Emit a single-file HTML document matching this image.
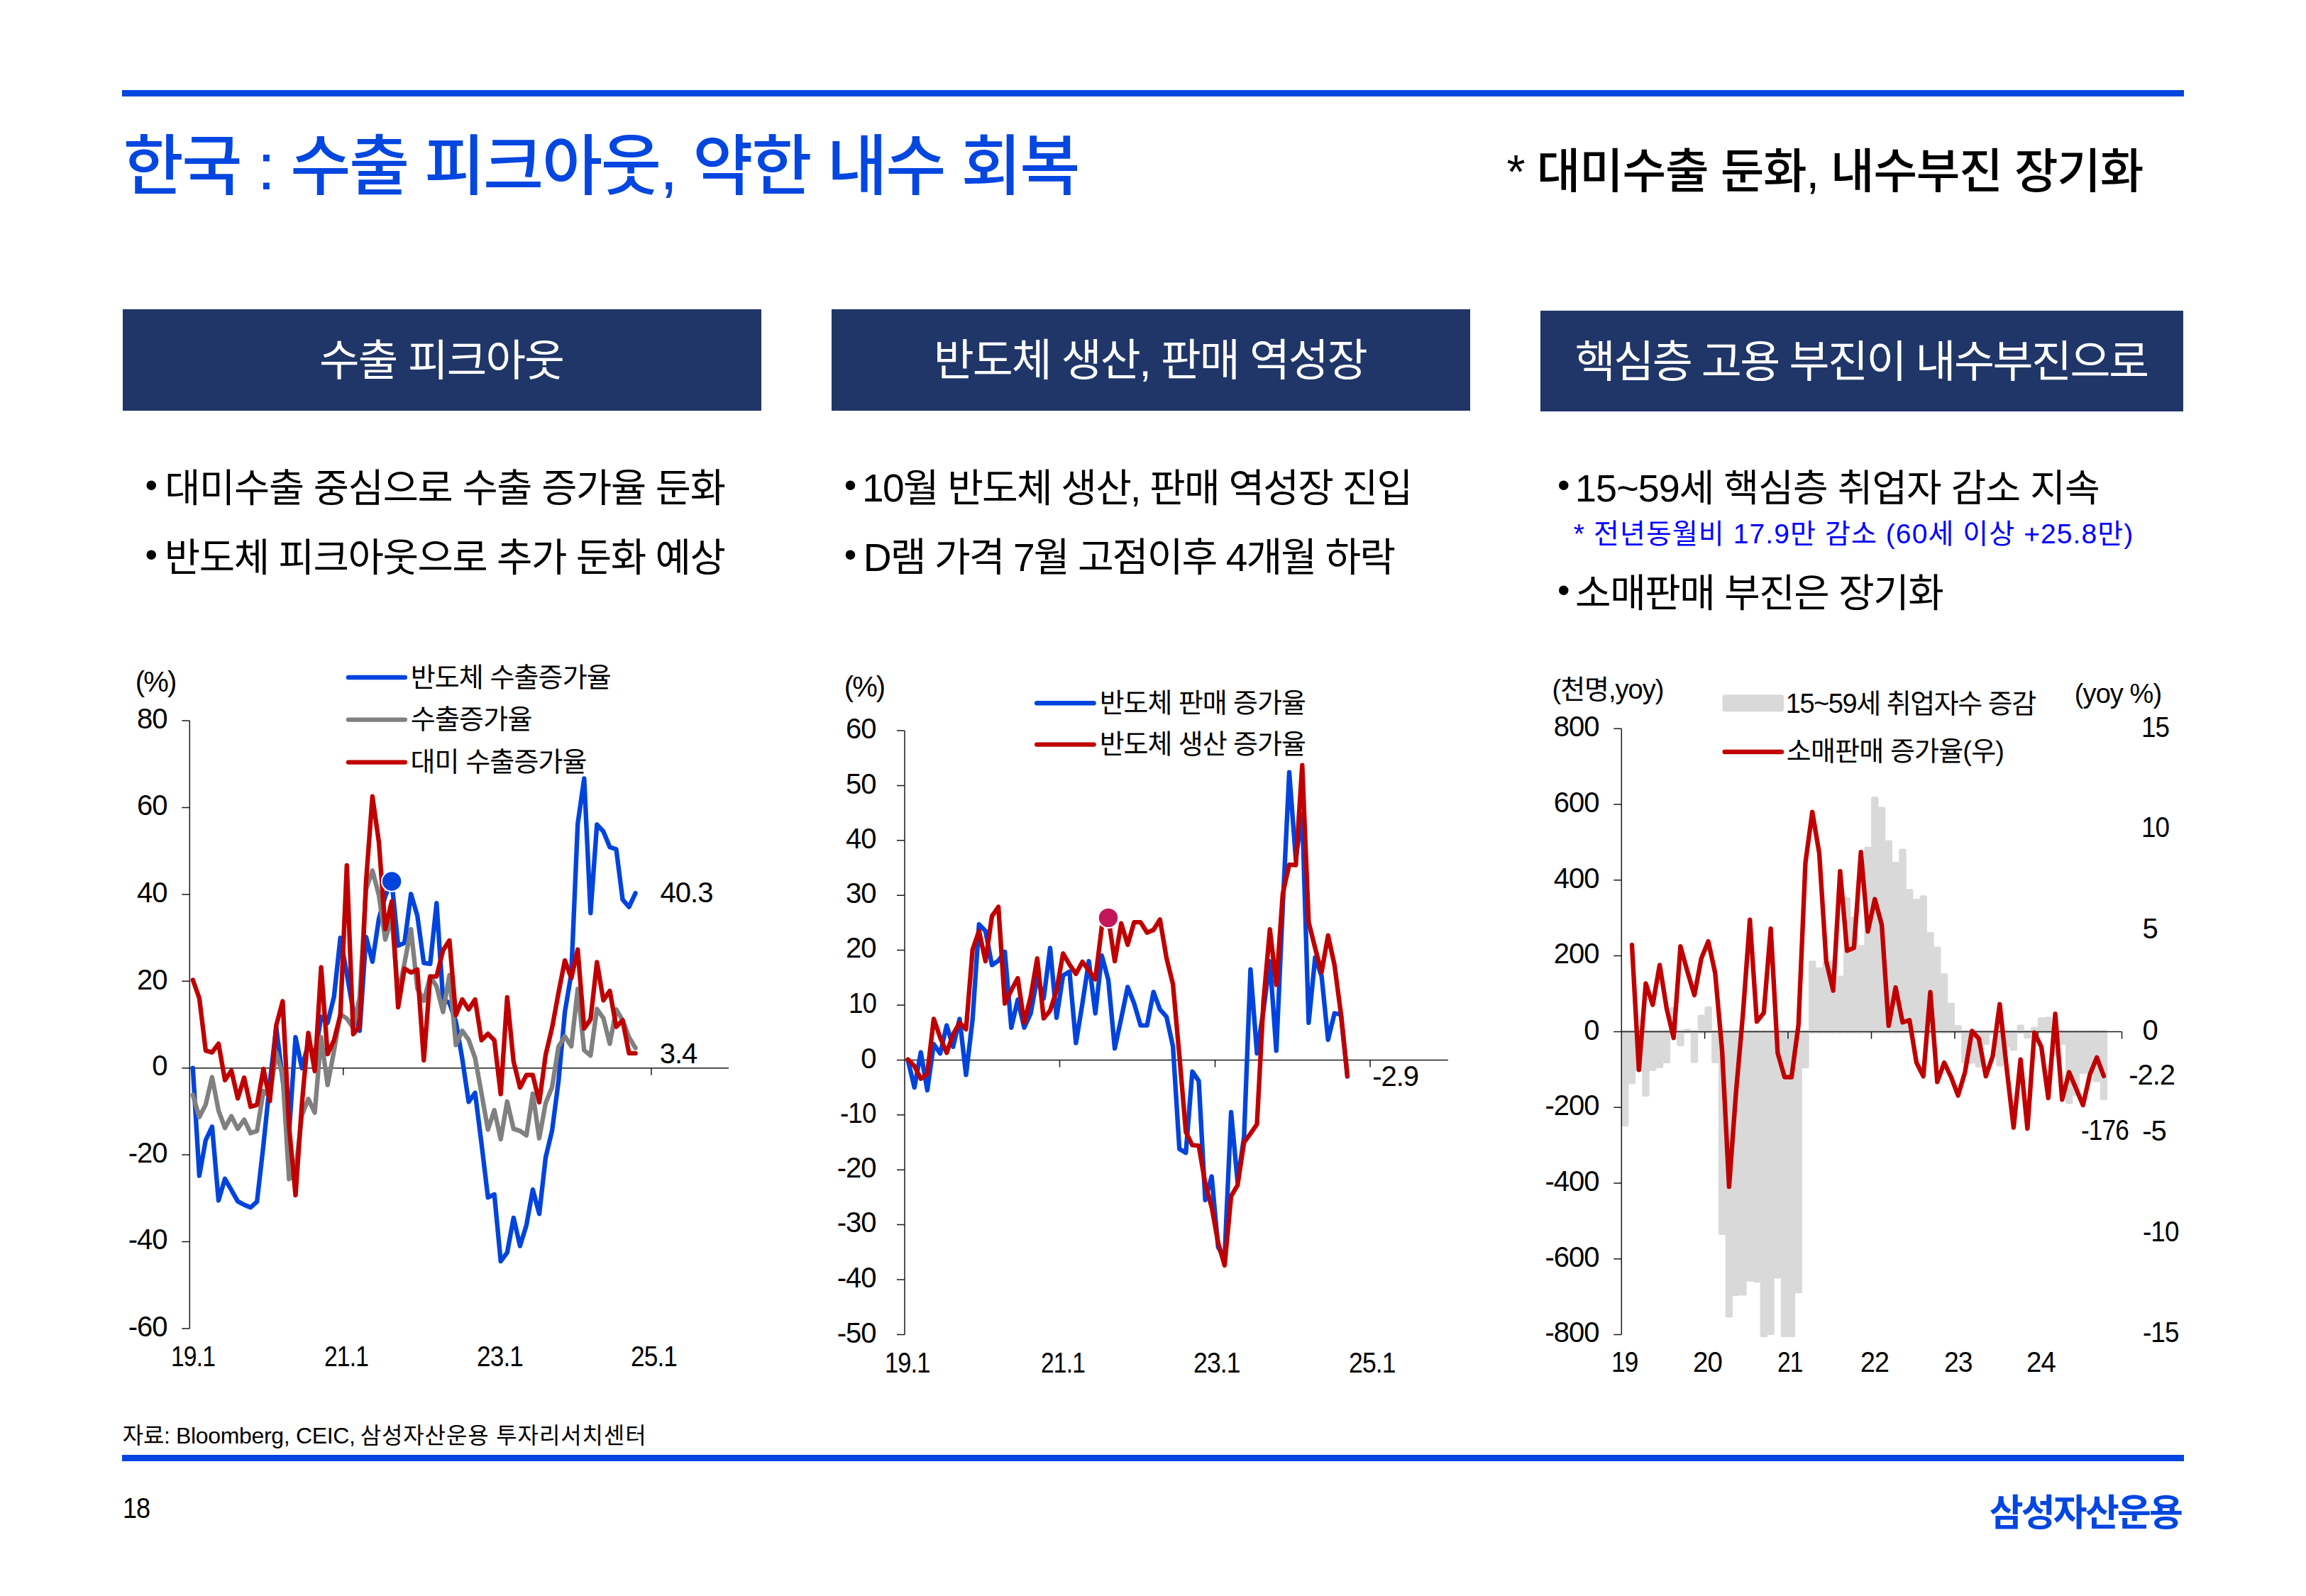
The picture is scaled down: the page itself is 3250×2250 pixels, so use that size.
<!DOCTYPE html>
<html lang="ko"><head><meta charset="utf-8"><title>한국 : 수출 피크아웃, 약한 내수 회복</title>
<style>
html,body{margin:0;padding:0;background:#fff}
body{width:3250px;height:2250px;position:relative;overflow:hidden;font-family:'Liberation Sans','Noto Sans CJK KR',sans-serif}
.t{position:absolute;white-space:nowrap;line-height:1;margin:0;padding:0;font-weight:400;color:#000;transform-origin:0 0}
.r{position:absolute;left:172px;width:2905.5px;background:#0446E0}
.hb{position:absolute;background:#203668;height:142.2px}
#charts{position:absolute;left:0;top:0}
</style></head><body>
<div class="r" style="top:126.6px;height:9.3px"></div>
<div class="r" style="top:2051px;height:8.9px"></div>
<div class="hb" style="left:173.4px;top:436.4px;width:900px"></div>
<div class="hb" style="left:1172px;top:436.4px;width:900px"></div>
<div class="hb" style="left:2171px;top:438.2px;width:905.6px"></div>
<svg id="charts" width="3250" height="2250" viewBox="0 0 3250 2250">
<defs><clipPath id="cp3"><rect x="2270" y="1000" width="760" height="885"/></clipPath></defs>
<g fill="none" stroke-linejoin="round" stroke-linecap="round">
<g clip-path="url(#cp3)" fill="#D9D9D9" stroke="#D9D9D9" stroke-width="5" stroke-linecap="butt">
<rect x="2287.5" y="1454.4" width="5.4" height="131.4"/>
<rect x="2297.3" y="1454.4" width="5.4" height="71.6"/>
<rect x="2307.1" y="1454.4" width="5.4" height="53.4"/>
<rect x="2316.8" y="1454.4" width="5.4" height="89.2"/>
<rect x="2326.6" y="1454.4" width="5.4" height="52.9"/>
<rect x="2336.4" y="1454.4" width="5.4" height="49.1"/>
<rect x="2346.2" y="1454.4" width="5.4" height="42.2"/>
<rect x="2356" y="1422.4" width="5.4" height="32"/>
<rect x="2365.7" y="1454.4" width="5.4" height="18.2"/>
<rect x="2375.5" y="1452.8" width="5.4" height="1.6"/>
<rect x="2385.3" y="1454.4" width="5.4" height="41.7"/>
<rect x="2395.1" y="1433" width="5.4" height="21.4"/>
<rect x="2404.9" y="1421.3" width="5.4" height="33.1"/>
<rect x="2414.6" y="1454.4" width="5.4" height="42.2"/>
<rect x="2424.4" y="1454.4" width="5.4" height="284.1"/>
<rect x="2434.2" y="1454.4" width="5.4" height="400.5"/>
<rect x="2444" y="1454.4" width="5.4" height="370.1"/>
<rect x="2453.8" y="1454.4" width="5.4" height="369.5"/>
<rect x="2463.5" y="1454.4" width="5.4" height="349.8"/>
<rect x="2473.3" y="1454.4" width="5.4" height="351.4"/>
<rect x="2483.1" y="1454.4" width="5.4" height="480.6"/>
<rect x="2492.9" y="1454.4" width="5.4" height="425.1"/>
<rect x="2502.7" y="1454.4" width="5.4" height="345.5"/>
<rect x="2512.4" y="1454.4" width="5.4" height="480.6"/>
<rect x="2522.2" y="1454.4" width="5.4" height="480.6"/>
<rect x="2532" y="1454.4" width="5.4" height="366.3"/>
<rect x="2541.8" y="1454.4" width="5.4" height="49.1"/>
<rect x="2551.6" y="1356.7" width="5.4" height="97.7"/>
<rect x="2561.3" y="1366.3" width="5.4" height="88.1"/>
<rect x="2571.1" y="1357.7" width="5.4" height="96.7"/>
<rect x="2580.9" y="1356.1" width="5.4" height="98.3"/>
<rect x="2590.7" y="1378" width="5.4" height="76.4"/>
<rect x="2600.5" y="1267.5" width="5.4" height="186.9"/>
<rect x="2610.2" y="1294.7" width="5.4" height="159.7"/>
<rect x="2620" y="1334.8" width="5.4" height="119.6"/>
<rect x="2629.8" y="1195.9" width="5.4" height="258.5"/>
<rect x="2639.6" y="1125.5" width="5.4" height="328.9"/>
<rect x="2649.4" y="1139.9" width="5.4" height="314.5"/>
<rect x="2659.1" y="1186.9" width="5.4" height="267.5"/>
<rect x="2668.9" y="1217.3" width="5.4" height="237.1"/>
<rect x="2678.7" y="1199.1" width="5.4" height="255.3"/>
<rect x="2688.5" y="1255.8" width="5.4" height="198.6"/>
<rect x="2698.3" y="1269.6" width="5.4" height="184.8"/>
<rect x="2708" y="1264.8" width="5.4" height="189.6"/>
<rect x="2717.8" y="1316.6" width="5.4" height="137.8"/>
<rect x="2727.6" y="1336.9" width="5.4" height="117.5"/>
<rect x="2737.4" y="1374.8" width="5.4" height="79.6"/>
<rect x="2747.2" y="1416" width="5.4" height="38.4"/>
<rect x="2756.9" y="1447.5" width="5.4" height="6.9"/>
<rect x="2766.7" y="1454.4" width="5.4" height="42.7"/>
<rect x="2776.5" y="1454.4" width="5.4" height="42.7"/>
<rect x="2786.3" y="1454.4" width="5.4" height="48.1"/>
<rect x="2796.1" y="1454.4" width="5.4" height="16"/>
<rect x="2805.8" y="1454.4" width="5.4" height="1.6"/>
<rect x="2815.6" y="1454.4" width="5.4" height="46.5"/>
<rect x="2825.4" y="1454.4" width="5.4" height="19.8"/>
<rect x="2835.2" y="1454.4" width="5.4" height="24.6"/>
<rect x="2845" y="1446.9" width="5.4" height="7.5"/>
<rect x="2854.7" y="1454.4" width="5.4" height="7.5"/>
<rect x="2864.5" y="1450.1" width="5.4" height="4.3"/>
<rect x="2874.3" y="1436.8" width="5.4" height="17.6"/>
<rect x="2884.1" y="1435.7" width="5.4" height="18.7"/>
<rect x="2893.9" y="1454.4" width="5.4" height="31"/>
<rect x="2903.6" y="1454.4" width="5.4" height="16"/>
<rect x="2913.4" y="1454.4" width="5.4" height="99.3"/>
<rect x="2923.2" y="1454.4" width="5.4" height="88.1"/>
<rect x="2933" y="1454.4" width="5.4" height="57.1"/>
<rect x="2942.8" y="1454.4" width="5.4" height="56.6"/>
<rect x="2952.5" y="1454.4" width="5.4" height="68.9"/>
<rect x="2962.3" y="1454.4" width="5.4" height="94"/>
</g>
<g stroke="#1a1a1a" stroke-width="1.5" stroke-linecap="butt">
<path d="M267.3 1016.1V1872.9M256.3 1016.1H267.3M256.3 1138.5H267.3M256.3 1260.9H267.3M256.3 1383.3H267.3M256.3 1505.7H267.3M256.3 1628.1H267.3M256.3 1750.5H267.3M256.3 1872.9H267.3M267.3 1505.7H1027M267.3 1505.7v10M483.8 1505.7v10M700.3 1505.7v10M918 1505.7v10"/>
<path d="M1275 1030V1881.4M1264 1030H1275M1264 1107.4H1275M1264 1184.8H1275M1264 1262.2H1275M1264 1339.6H1275M1264 1417H1275M1264 1494.4H1275M1264 1571.8H1275M1264 1649.2H1275M1264 1726.6H1275M1264 1804H1275M1264 1881.4H1275M1275 1494.4H2040.8M1275 1494.4v10M1493.5 1494.4v10M1712.5 1494.4v10M1931 1494.4v10"/>
<path d="M2285.3 1027.2V1881.6M2274.3 1027.2H2285.3M2274.3 1134H2285.3M2274.3 1240.8H2285.3M2274.3 1347.6H2285.3M2274.3 1454.4H2285.3M2274.3 1561.2H2285.3M2274.3 1668H2285.3M2274.3 1774.8H2285.3M2274.3 1881.6H2285.3M2285.3 1454.4H2990.5M2285.3 1454.4v10M2402.6 1454.4v10M2520 1454.4v10M2637.5 1454.4v10M2755 1454.4v10M2872.2 1454.4v10M2990.5 1454.4v10"/>
</g>
<g stroke-width="6.4">
<polyline stroke="#0044DD" points="271.8,1505.7 280.9,1657.5 289.9,1607.3 298.9,1588.3 308,1692.4 317,1661.8 326.1,1677.7 335.1,1693.6 344.1,1698.5 353.2,1702.2 362.2,1694.2 371.3,1614 380.3,1526.5 389.3,1448.2 398.4,1522.2 407.4,1596.9 416.5,1462.2 425.5,1505.9 434.5,1471.4 443.6,1488.6 452.6,1433.5 461.7,1442.1 470.7,1405.3 479.7,1322.1 488.8,1372.9 497.8,1424.9 506.9,1453.1 515.9,1320.9 524.9,1355.8 534,1295.2 543,1263.3 552.1,1242.5 561.1,1333.1 570.1,1329.4 579.2,1260.3 588.2,1290.9 597.3,1357.6 606.3,1358.8 615.3,1273.1 624.4,1409 633.4,1413.9 642.5,1440.2 651.5,1492.8 660.5,1553.4 669.6,1540.6 678.6,1612.2 687.7,1688.1 696.7,1683.8 705.7,1778 714.8,1765.8 723.8,1716.8 732.9,1756.6 741.9,1727.2 750.9,1677.1 760,1711.3 769,1631.8 778.1,1593.8 787.1,1524.7 796.1,1426.8 805.2,1372.3 814.2,1161.8 823.3,1097.5 832.3,1287.2 841.3,1162.4 850.4,1172.2 859.4,1194.2 868.5,1197.3 877.5,1268.2 886.5,1278.6 895.6,1259.1"/>
<polyline stroke="#808080" points="271.8,1543.6 280.9,1574.9 289.9,1557.1 298.9,1518.6 308,1565.7 317,1590.2 326.1,1573.6 335.1,1591.4 344.1,1578.5 353.2,1597.5 362.2,1594.4 371.3,1538.1 380.3,1546.1 389.3,1483.7 398.4,1516.1 407.4,1662.4 416.5,1651.4 425.5,1572.4 434.5,1549.2 443.6,1568.7 452.6,1462.2 461.7,1529.6 470.7,1481.8 479.7,1429.8 488.8,1435.9 497.8,1448.8 506.9,1405.9 515.9,1253.6 524.9,1227.2 534,1262.1 543,1324.5 552.1,1293.3 561.1,1402.3 570.1,1357.6 579.2,1309.9 588.2,1393.7 597.3,1410.8 606.3,1376.6 615.3,1390.6 624.4,1426.8 633.4,1374.7 642.5,1473.3 651.5,1453.1 660.5,1465.9 669.6,1491.6 678.6,1541.2 687.7,1592.6 696.7,1565.1 705.7,1606.1 714.8,1552.8 723.8,1591.4 732.9,1594.4 741.9,1600.6 750.9,1541.8 760,1604.8 769,1555.3 778.1,1532.6 787.1,1475.7 796.1,1461 805.2,1475.1 814.2,1394.3 823.3,1480.6 832.3,1488 841.3,1422.5 850.4,1435.3 859.4,1471.4 868.5,1423.1 877.5,1438.4 886.5,1462.2 895.6,1477.5"/>
<polyline stroke="#C00000" points="271.8,1381.5 280.9,1407.2 289.9,1481.2 298.9,1483.7 308,1471.4 317,1522.8 326.1,1509.4 335.1,1548.5 344.1,1519.2 353.2,1560.2 362.2,1557.7 371.3,1506.9 380.3,1552.2 389.3,1445.7 398.4,1411.5 407.4,1588.3 416.5,1685 425.5,1556.5 434.5,1456.1 443.6,1510 452.6,1363.7 461.7,1486.1 470.7,1466.5 479.7,1431 488.8,1219.9 497.8,1458 506.9,1446.9 515.9,1242.5 524.9,1122.6 534,1187.5 543,1309.9 552.1,1270.7 561.1,1420 570.1,1365.6 579.2,1371.1 588.2,1366.8 597.3,1494.7 606.3,1376.6 615.3,1376.6 624.4,1339.8 633.4,1325.8 642.5,1431 651.5,1409 660.5,1423.1 669.6,1409 678.6,1466.5 687.7,1457.4 696.7,1466.5 705.7,1542.4 714.8,1405.9 723.8,1496.5 732.9,1533.2 741.9,1515.5 750.9,1515.5 760,1554 769,1487.3 778.1,1448.8 787.1,1399.8 796.1,1353.9 805.2,1379 814.2,1338.6 823.3,1450 832.3,1437.2 841.3,1356.4 850.4,1410.2 859.4,1396.8 868.5,1447.6 877.5,1438.4 886.5,1484.9 895.6,1484.9"/>
<polyline stroke="#0044DD" points="1279.6,1494.4 1288.7,1533.1 1297.8,1483.6 1306.9,1537 1316,1472 1325.1,1485.1 1334.2,1445.6 1343.3,1475.8 1352.4,1436.4 1361.5,1515.3 1370.7,1437.1 1379.8,1303.2 1388.9,1312.5 1398,1360.5 1407.1,1354.3 1416.2,1341.9 1425.3,1448.7 1434.4,1409.3 1443.5,1448.7 1452.6,1428.6 1461.8,1378.3 1470.9,1407.7 1480,1336.5 1489.1,1434.8 1498.2,1375.2 1507.3,1369.8 1516.4,1470.4 1525.5,1414.7 1534.6,1355.1 1543.7,1428.6 1552.9,1347.3 1562,1381.4 1571.1,1478.1 1580.2,1435.6 1589.3,1391.5 1598.4,1414.7 1607.5,1445.6 1616.6,1445.6 1625.7,1398.4 1634.8,1423.2 1644,1433.3 1653.1,1475.1 1662.2,1619.8 1671.3,1625.2 1680.4,1510.7 1689.5,1523.8 1698.6,1691.8 1707.7,1658.5 1716.8,1758.3 1725.9,1773 1735.1,1567.9 1744.2,1666.2 1753.3,1602.8 1762.4,1366.7 1771.5,1485.1 1780.6,1424.7 1789.7,1355.1 1798.8,1481.2 1807.9,1277.7 1817,1088.8 1826.2,1210.3 1835.3,1147.6 1844.4,1441.8 1853.5,1349.7 1862.6,1376 1871.7,1465.8 1880.8,1428.6 1889.9,1430.2 1899,1517.6"/>
<polyline stroke="#C00000" points="1279.6,1493.6 1288.7,1502.9 1297.8,1520.7 1306.9,1513.8 1316,1436.4 1325.1,1462.7 1334.2,1484.3 1343.3,1458 1352.4,1441.8 1361.5,1451.1 1370.7,1338.8 1379.8,1312.5 1388.9,1355.1 1398,1291.6 1407.1,1278.5 1416.2,1414.7 1425.3,1396.1 1434.4,1379.1 1443.5,1441.8 1452.6,1405.4 1461.8,1351.2 1470.9,1435.6 1480,1424.7 1489.1,1396.1 1498.2,1344.2 1507.3,1359.7 1516.4,1372.9 1525.5,1355.9 1534.6,1368.2 1543.7,1380.6 1552.9,1306.3 1562,1293.9 1571.1,1355.1 1580.2,1301.7 1589.3,1331.9 1598.4,1300.1 1607.5,1300.1 1616.6,1314.8 1625.7,1311 1634.8,1296.3 1644,1350.4 1653.1,1387.6 1662.2,1488.2 1671.3,1595.8 1680.4,1614.4 1689.5,1615.1 1698.6,1668.6 1707.7,1701.8 1716.8,1752.1 1725.9,1783.9 1735.1,1686.4 1744.2,1670.9 1753.3,1610.5 1762.4,1598.1 1771.5,1585 1780.6,1413.1 1789.7,1310.2 1798.8,1388.4 1807.9,1259.9 1817,1218.9 1826.2,1219.6 1835.3,1078.8 1844.4,1300.1 1853.5,1336.5 1862.6,1370.6 1871.7,1318.7 1880.8,1360.5 1889.9,1429.4 1899,1516.8"/>
<polyline stroke="#C00000" points="2300,1332.3 2309.8,1508.2 2319.5,1386.4 2329.3,1416.5 2339.1,1360.4 2348.9,1421.7 2358.7,1463.2 2368.4,1334.3 2378.2,1369.6 2388,1402.9 2397.8,1351.1 2407.6,1327.1 2417.3,1371.8 2427.1,1481.4 2436.9,1673 2446.7,1539.8 2456.5,1428.8 2466.2,1296.7 2476,1440.4 2485.8,1427.9 2495.6,1309.2 2505.4,1484.3 2515.1,1518.5 2524.9,1518.5 2534.7,1445 2544.5,1216.4 2554.2,1144.6 2564,1203 2573.8,1355 2583.6,1396.6 2593.4,1228.3 2603.2,1340.2 2612.9,1336.2 2622.7,1201.3 2632.5,1313.2 2642.3,1267.6 2652.1,1303.8 2661.8,1446.1 2671.6,1392.1 2681.4,1441.3 2691.2,1438.2 2701,1498 2710.7,1517.3 2720.5,1398.6 2730.3,1525.3 2740.1,1498 2749.9,1518.7 2759.6,1544.4 2769.4,1511.6 2779.2,1453.5 2789,1464.4 2798.8,1517.3 2808.5,1488.8 2818.3,1415.7 2828.1,1505.6 2837.9,1589.6 2847.7,1493.7 2857.4,1591.1 2867.2,1455.8 2877,1475.8 2886.8,1548.1 2896.6,1429.3 2906.3,1550.3 2916.1,1511.6 2925.9,1534.4 2935.7,1558 2945.5,1514.5 2955.2,1490.8 2965,1517"/>
<path stroke="#0044DD" d="M491 955H570.8"/>
<path stroke="#808080" d="M491 1014.6H570.8"/>
<path stroke="#C00000" d="M491 1074.6H570.8"/>
<path stroke="#0044DD" d="M1461.2 991.2H1541.6"/>
<path stroke="#C00000" d="M1461.2 1049.6H1541.6"/>
<path stroke="#C00000" d="M2430.7 1060H2510.9"/>
</g>
<rect x="2427.6" y="979.2" width="86.4" height="24" rx="3.5" fill="#D9D9D9"/>
<circle cx="552.1" cy="1242.5" r="14.2" fill="#0044DD" stroke="#fff" stroke-width="2"/>
<circle cx="1562" cy="1293.9" r="14.2" fill="#C2185B" stroke="#fff" stroke-width="2"/>
</g></svg>
<div class="t" id="title" style="left:173.4px;top:189.1px;font-size:92.7px;letter-spacing:-2.41px;font-weight:500;color:#0446E0">한국 : 수출 피크아웃, 약한 내수 회복</div>
<div class="t" id="sub" style="left:2123.6px;top:208px;font-size:67px;letter-spacing:-1.26px;font-weight:500">* 대미수출 둔화, 내수부진 장기화</div>
<div class="t" id="h1" style="left:450.1px;top:477.6px;font-size:61.5px;letter-spacing:-1.81px;color:#fff">수출 피크아웃</div>
<div class="t" id="h2" style="left:1315.8px;top:477.7px;font-size:62px;letter-spacing:-2.10px;color:#fff">반도체 생산, 판매 역성장</div>
<div class="t" id="h3" style="left:2219.7px;top:480.2px;font-size:62px;letter-spacing:-2.56px;color:#fff">핵심층 고용 부진이 내수부진으로</div>
<div class="t" id="b11" style="left:232.2px;top:661.7px;font-size:54.5px;letter-spacing:-1.22px">대미수출 중심으로 수출 증가율 둔화</div>
<div class="t" id="b12" style="left:231.8px;top:758.8px;font-size:54.8px;letter-spacing:-1.44px">반도체 피크아웃으로 추가 둔화 예상</div>
<div class="t" id="b21" style="left:1215.1px;top:660.7px;font-size:55.1px;letter-spacing:-1.80px">10월 반도체 생산, 판매 역성장 진입</div>
<div class="t" id="b22" style="left:1216.8px;top:758.7px;font-size:55.2px;letter-spacing:-1.94px">D램 가격 7월 고점이후 4개월 하락</div>
<div class="t" id="b31" style="left:2220px;top:661.7px;font-size:53.9px;letter-spacing:-0.90px">15~59세 핵심층 취업자 감소 지속</div>
<div class="t" id="b3n" style="left:2217.8px;top:732.8px;font-size:39px;letter-spacing:1.09px;color:#0000FF">* 전년동월비 17.9만 감소 (60세 이상 +25.8만)</div>
<div class="t" id="b32" style="left:2220.1px;top:808.9px;font-size:54.9px;letter-spacing:-1.44px">소매판매 부진은 장기화</div>
<div class="t" id="d0" style="left:204.5px;top:659.4px;font-size:50px">•</div>
<div class="t" id="d1" style="left:204.5px;top:756.8px;font-size:50px">•</div>
<div class="t" id="d2" style="left:1189.7px;top:659.4px;font-size:50px">•</div>
<div class="t" id="d3" style="left:1189.7px;top:756.8px;font-size:50px">•</div>
<div class="t" id="d4" style="left:2194.9px;top:658.8px;font-size:50px">•</div>
<div class="t" id="d5" style="left:2194.9px;top:807.4px;font-size:50px">•</div>
<div class="t" id="src1" style="left:172.8px;top:2008.1px;font-size:32px;letter-spacing:-0.34px">자료: Bloomberg, CEIC,</div>
<div class="t" id="src2" style="left:507.7px;top:2007.7px;font-size:32px;letter-spacing:0.87px">삼성자산운용 투자리서치센터</div>
<div class="t" id="pg" style="left:173px;top:2105.6px;font-size:40px;letter-spacing:-1.00px;transform:scaleX(0.900)">18</div>
<div class="t" id="logo" style="left:2803.7px;top:2106.8px;font-size:52px;letter-spacing:-2.77px;font-weight:700;color:#0446E0">삼성자산운용</div>
<div class="t" id="c1u" style="left:190.8px;top:940.5px;font-size:40px;letter-spacing:-1.89px">(%)</div>
<div class="t" id="c1y80" style="left:193px;top:993.2px;font-size:40px;letter-spacing:-1.00px">80</div>
<div class="t" id="c1y60" style="left:193px;top:1115px;font-size:40px;letter-spacing:-1.00px">60</div>
<div class="t" id="c1y40" style="left:193px;top:1237.8px;font-size:40px;letter-spacing:-1.00px">40</div>
<div class="t" id="c1y20" style="left:193px;top:1360.6px;font-size:40px;letter-spacing:-1.00px">20</div>
<div class="t" id="c1y0" style="left:214.3px;top:1482.4px;font-size:40px;letter-spacing:-1.00px">0</div>
<div class="t" id="c1y-20" style="left:180.7px;top:1605.2px;font-size:40px;letter-spacing:-1.00px">-20</div>
<div class="t" id="c1y-40" style="left:180.7px;top:1727px;font-size:40px;letter-spacing:-1.00px">-40</div>
<div class="t" id="c1y-60" style="left:180.7px;top:1849.8px;font-size:40px;letter-spacing:-1.00px">-60</div>
<div class="t" id="c1l1" style="left:578.7px;top:935.6px;font-size:38px;letter-spacing:-0.91px">반도체 수출증가율</div>
<div class="t" id="c1l2" style="left:578.8px;top:994.6px;font-size:38px;letter-spacing:-0.81px">수출증가율</div>
<div class="t" id="c1l3" style="left:578.4px;top:1054.9px;font-size:38px;letter-spacing:-0.87px">대미 수출증가율</div>
<div class="t" id="c1e1" style="left:930.6px;top:1238px;font-size:40px;letter-spacing:-1.00px">40.3</div>
<div class="t" id="c1e2" style="left:929.7px;top:1465px;font-size:40px;letter-spacing:-1.00px">3.4</div>
<div class="t" id="c1x19" style="left:240.8px;top:1892px;font-size:40px;letter-spacing:-1.00px;transform:scaleX(0.840)">19.1</div>
<div class="t" id="c1x21" style="left:456.8px;top:1892px;font-size:40px;letter-spacing:-1.00px;transform:scaleX(0.840)">21.1</div>
<div class="t" id="c1x23" style="left:672.1px;top:1892px;font-size:40px;letter-spacing:-1.00px;transform:scaleX(0.880)">23.1</div>
<div class="t" id="c1x25" style="left:889px;top:1892px;font-size:40px;letter-spacing:-1.00px;transform:scaleX(0.880)">25.1</div>
<div class="t" id="c2u" style="left:1189.8px;top:948px;font-size:40px;letter-spacing:-1.91px">(%)</div>
<div class="t" id="c2y60" style="left:1192px;top:1007px;font-size:40px;letter-spacing:-1.00px">60</div>
<div class="t" id="c2y50" style="left:1192px;top:1084.8px;font-size:40px;letter-spacing:-1.00px">50</div>
<div class="t" id="c2y40" style="left:1192px;top:1161.6px;font-size:40px;letter-spacing:-1.00px">40</div>
<div class="t" id="c2y30" style="left:1192px;top:1239.4px;font-size:40px;letter-spacing:-1.00px">30</div>
<div class="t" id="c2y20" style="left:1192px;top:1316.2px;font-size:40px;letter-spacing:-1.00px">20</div>
<div class="t" id="c2y10" style="left:1195.5px;top:1394px;font-size:40px;letter-spacing:-1.00px;transform:scaleX(0.920)">10</div>
<div class="t" id="c2y0" style="left:1213.3px;top:1471.8px;font-size:40px;letter-spacing:-1.00px">0</div>
<div class="t" id="c2y-10" style="left:1184px;top:1548.6px;font-size:40px;letter-spacing:-1.00px;transform:scaleX(0.920)">-10</div>
<div class="t" id="c2y-20" style="left:1179.7px;top:1626.4px;font-size:40px;letter-spacing:-1.00px">-20</div>
<div class="t" id="c2y-30" style="left:1179.7px;top:1703.2px;font-size:40px;letter-spacing:-1.00px">-30</div>
<div class="t" id="c2y-40" style="left:1179.7px;top:1781px;font-size:40px;letter-spacing:-1.00px">-40</div>
<div class="t" id="c2y-50" style="left:1179.7px;top:1858.8px;font-size:40px;letter-spacing:-1.00px">-50</div>
<div class="t" id="c2l1" style="left:1549.7px;top:971.9px;font-size:38px;letter-spacing:-1.07px">반도체 판매 증가율</div>
<div class="t" id="c2l2" style="left:1549.7px;top:1030.3px;font-size:38px;letter-spacing:-1.07px">반도체 생산 증가율</div>
<div class="t" id="c2e1" style="left:1934.2px;top:1496.8px;font-size:40px;letter-spacing:-1.00px">-2.9</div>
<div class="t" id="c2x19" style="left:1247px;top:1901px;font-size:40px;letter-spacing:-1.00px;transform:scaleX(0.860)">19.1</div>
<div class="t" id="c2x21" style="left:1466.6px;top:1901px;font-size:40px;letter-spacing:-1.00px;transform:scaleX(0.840)">21.1</div>
<div class="t" id="c2x23" style="left:1682.4px;top:1901px;font-size:40px;letter-spacing:-1.00px;transform:scaleX(0.890)">23.1</div>
<div class="t" id="c2x25" style="left:1900.8px;top:1901px;font-size:40px;letter-spacing:-1.00px;transform:scaleX(0.890)">25.1</div>
<div class="t" id="c3u" style="left:2187.5px;top:952.6px;font-size:38px;letter-spacing:-1.02px">(천명,yoy)</div>
<div class="t" id="c3u2" style="left:2923.8px;top:958.5px;font-size:38px;letter-spacing:-0.91px">(yoy %)</div>
<div class="t" id="c3y800" style="left:2189.7px;top:1004.4px;font-size:40px;letter-spacing:-1.00px">800</div>
<div class="t" id="c3y600" style="left:2189.7px;top:1111px;font-size:40px;letter-spacing:-1.00px">600</div>
<div class="t" id="c3y400" style="left:2189.7px;top:1217.6px;font-size:40px;letter-spacing:-1.00px">400</div>
<div class="t" id="c3y200" style="left:2189.7px;top:1324.2px;font-size:40px;letter-spacing:-1.00px">200</div>
<div class="t" id="c3y0" style="left:2232.3px;top:1431.8px;font-size:40px;letter-spacing:-1.00px">0</div>
<div class="t" id="c3y-200" style="left:2177.5px;top:1538.4px;font-size:40px;letter-spacing:-1.00px">-200</div>
<div class="t" id="c3y-400" style="left:2177.5px;top:1645px;font-size:40px;letter-spacing:-1.00px">-400</div>
<div class="t" id="c3y-600" style="left:2177.5px;top:1751.6px;font-size:40px;letter-spacing:-1.00px">-600</div>
<div class="t" id="c3y-800" style="left:2177.5px;top:1858.2px;font-size:40px;letter-spacing:-1.00px">-800</div>
<div class="t" id="c3r15" style="left:3018.4px;top:1004.5px;font-size:40px;letter-spacing:-1.00px;transform:scaleX(0.920)">15</div>
<div class="t" id="c3r10" style="left:3018.4px;top:1146.4px;font-size:40px;letter-spacing:-1.00px;transform:scaleX(0.920)">10</div>
<div class="t" id="c3r5" style="left:3019.4px;top:1289.2px;font-size:40px;letter-spacing:-1.00px">5</div>
<div class="t" id="c3r0" style="left:3019.6px;top:1431.8px;font-size:40px;letter-spacing:-1.00px">0</div>
<div class="t" id="c3r-5" style="left:3019.2px;top:1573.6px;font-size:40px;letter-spacing:-1.00px">-5</div>
<div class="t" id="c3r-10" style="left:3019.6px;top:1716.2px;font-size:40px;letter-spacing:-1.00px;transform:scaleX(0.920)">-10</div>
<div class="t" id="c3r-15" style="left:3019.6px;top:1858px;font-size:40px;letter-spacing:-1.00px;transform:scaleX(0.920)">-15</div>
<div class="t" id="c3e1" style="left:3000.2px;top:1495px;font-size:40px;letter-spacing:-1.00px">-2.2</div>
<div class="t" id="c3e2" style="left:2932.7px;top:1572.6px;font-size:40px;letter-spacing:-1.00px;transform:scaleX(0.880)">-176</div>
<div class="t" id="c3l1" style="left:2516.8px;top:972.5px;font-size:38px;letter-spacing:-1.47px">15~59세 취업자수 증감</div>
<div class="t" id="c3l2" style="left:2517.8px;top:1039.8px;font-size:38px;letter-spacing:-0.84px">소매판매 증가율(우)</div>
<div class="t" id="c3x19" style="left:2270.6px;top:1899.6px;font-size:40px;letter-spacing:-1.00px;transform:scaleX(0.880)">19</div>
<div class="t" id="c3x20" style="left:2385.8px;top:1899.6px;font-size:40px;letter-spacing:-1.00px;transform:scaleX(0.960)">20</div>
<div class="t" id="c3x21" style="left:2505.3px;top:1899.6px;font-size:40px;letter-spacing:-1.00px;transform:scaleX(0.840)">21</div>
<div class="t" id="c3x22" style="left:2621.7px;top:1899.6px;font-size:40px;letter-spacing:-1.00px;transform:scaleX(0.940)">22</div>
<div class="t" id="c3x23" style="left:2739.7px;top:1899.6px;font-size:40px;letter-spacing:-1.00px;transform:scaleX(0.930)">23</div>
<div class="t" id="c3x24" style="left:2856px;top:1899.6px;font-size:40px;letter-spacing:-1.00px;transform:scaleX(0.960)">24</div>
</body></html>
